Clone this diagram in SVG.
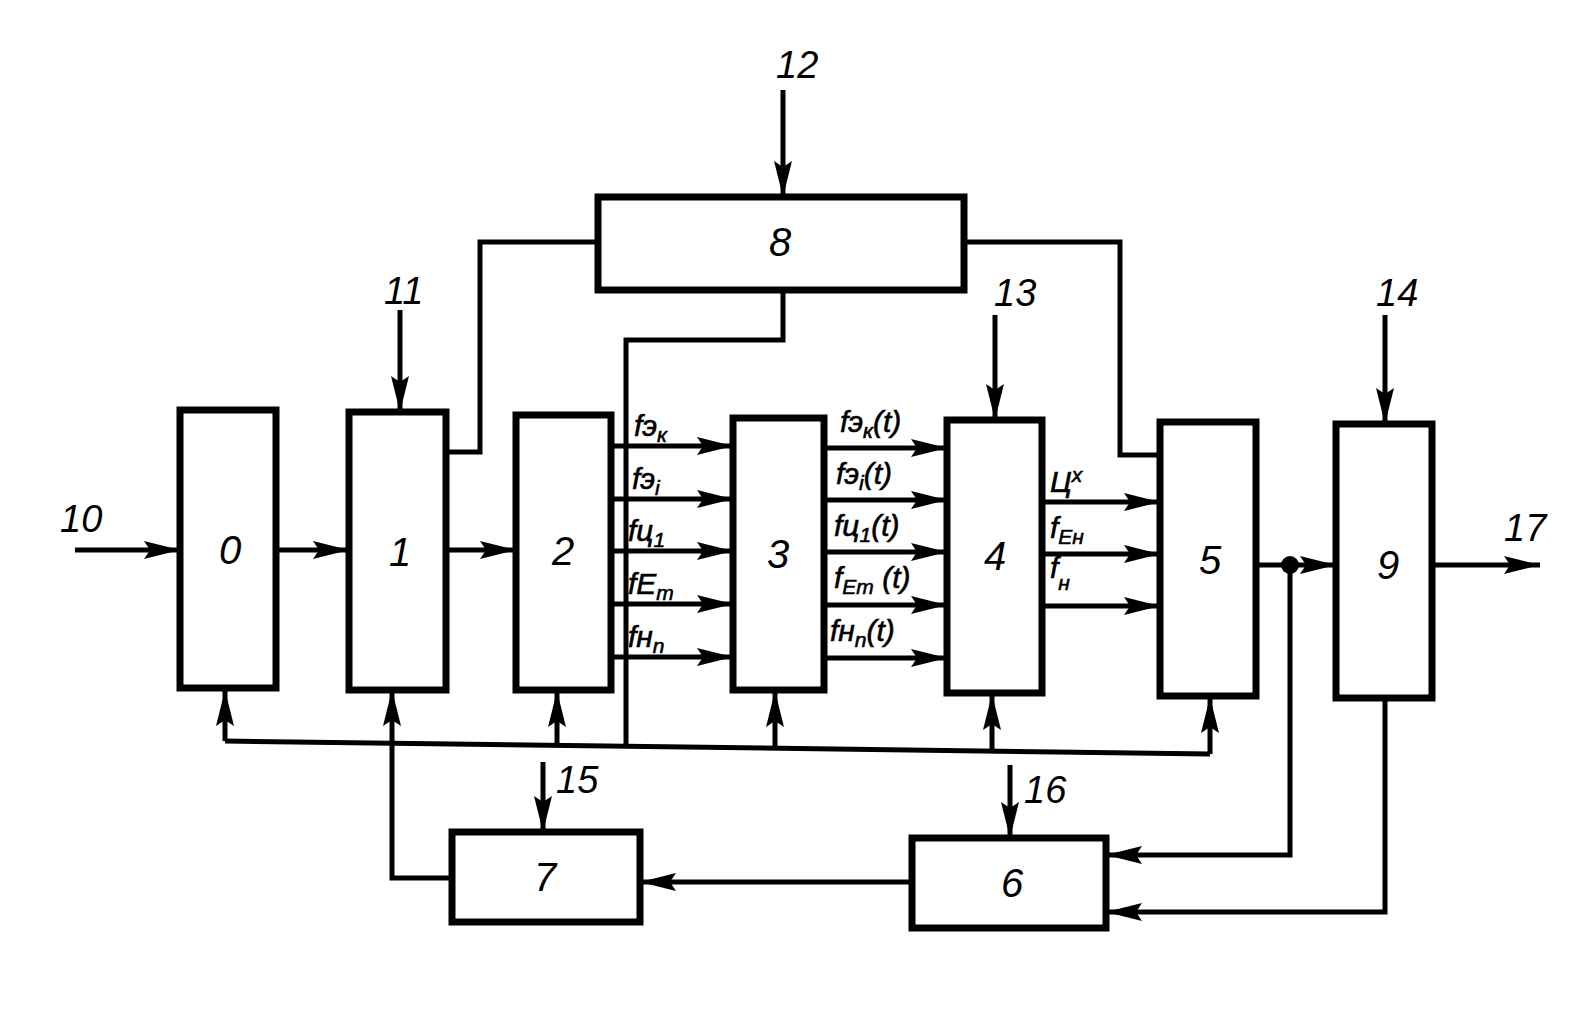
<svg xmlns="http://www.w3.org/2000/svg" width="1585" height="1016" viewBox="0 0 1585 1016">
<defs>
<marker id="ah" markerUnits="userSpaceOnUse" markerWidth="38" markerHeight="20" refX="36" refY="9" orient="auto">
<path d="M0,0 L36,9 L0,18 L6,9 Z" fill="#000"/>
</marker>
<style>
.box{fill:#fff;stroke:#000;stroke-width:7}
.ln{fill:none;stroke:#000;stroke-width:5}
.ar{fill:none;stroke:#000;stroke-width:5;marker-end:url(#ah)}
.num{font-family:"Liberation Sans",Arial,sans-serif;font-style:italic;font-size:40px;text-anchor:middle;fill:#000}
.lab{font-family:"Liberation Sans",Arial,sans-serif;font-style:italic;font-size:38px;fill:#000}
.sig{font-family:"Liberation Sans",Arial,sans-serif;font-style:italic;font-size:30px;fill:#000;stroke:#000;stroke-width:0.6}
.sub{font-size:21px}
</style>
</defs>
<rect width="1585" height="1016" fill="#fff"/>
<g id="connectors">
<path class="ar" d="M75,550 H180"/>
<path class="ar" d="M276,550 H349"/>
<path class="ar" d="M446,550 H516"/>
<path class="ar" d="M400,310 V412"/>
<path class="ln" d="M446,452 H480 V242 H598"/>
<path class="ar" d="M783,90 V197"/>
<path class="ln" d="M783,290 V340 H626 V746"/>
<path class="ln" d="M964,242 H1120 V455 H1160"/>
<path class="ar" d="M995,315 V420"/>
<path class="ar" d="M1385,315 V424"/>
<path class="ar" d="M611,446 H733"/>
<path class="ar" d="M611,499 H733"/>
<path class="ar" d="M611,551 H733"/>
<path class="ar" d="M611,604 H733"/>
<path class="ar" d="M611,657 H733"/>
<path class="ar" d="M824,448 H947"/>
<path class="ar" d="M824,500 H947"/>
<path class="ar" d="M824,552 H947"/>
<path class="ar" d="M824,605 H947"/>
<path class="ar" d="M824,658 H947"/>
<path class="ar" d="M1042,502 H1160"/>
<path class="ar" d="M1042,554 H1160"/>
<path class="ar" d="M1042,606 H1160"/>
<path class="ar" d="M1256,565 H1336"/>
<circle cx="1290" cy="565" r="9" fill="#000"/>
<path class="ar" d="M1290,565 V855 H1106"/>
<path class="ar" d="M1385,698 V912 H1106"/>
<path class="ar" d="M1432,565 H1540"/>
<path class="ar" d="M912,882 H640"/>
<path class="ar" d="M452,878 H392 V690"/>
<path class="ln" d="M225,741 L1210,754"/>
<path class="ar" d="M225,741 V690"/>
<path class="ar" d="M557,745 V691"/>
<path class="ar" d="M775,748 V691"/>
<path class="ar" d="M992,751 V694"/>
<path class="ar" d="M1210,754 V697"/>
<path class="ar" d="M543,762 V832"/>
<path class="ar" d="M1010,765 V838"/>
</g>
<g id="node0"><rect class="box" x="180" y="410" width="96" height="278"/><text class="num" x="230" y="564">0</text></g>
<g id="node1"><rect class="box" x="349" y="412" width="97" height="278"/><text class="num" x="400" y="566">1</text></g>
<g id="node2"><rect class="box" x="516" y="415" width="95" height="275"/><text class="num" x="563" y="565">2</text></g>
<g id="node3"><rect class="box" x="733" y="418" width="91" height="272"/><text class="num" x="778" y="568">3</text></g>
<g id="node4"><rect class="box" x="947" y="420" width="95" height="273"/><text class="num" x="995" y="570">4</text></g>
<g id="node5"><rect class="box" x="1160" y="422" width="96" height="274"/><text class="num" x="1210" y="574">5</text></g>
<g id="node9"><rect class="box" x="1336" y="424" width="96" height="274"/><text class="num" x="1388" y="579">9</text></g>
<g id="node8"><rect class="box" x="598" y="197" width="366" height="93"/><text class="num" x="780" y="256">8</text></g>
<g id="node7"><rect class="box" x="452" y="832" width="188" height="90"/><text class="num" x="545" y="891">7</text></g>
<g id="node6"><rect class="box" x="912" y="838" width="194" height="90"/><text class="num" x="1012" y="897">6</text></g>
<g id="labels">
<text class="lab" x="60" y="532">10</text>
<text class="lab" x="384" y="304">11</text>
<text class="lab" x="776" y="78">12</text>
<text class="lab" x="994" y="306">13</text>
<text class="lab" x="1376" y="306">14</text>
<text class="lab" x="556" y="793">15</text>
<text class="lab" x="1024" y="803">16</text>
<text class="lab" x="1504" y="541">17</text>
<text class="sig" x="634" y="436">fэ<tspan class="sub" dy="6">к</tspan></text>
<text class="sig" x="632" y="489">fэ<tspan class="sub" dy="6">i</tspan></text>
<text class="sig" x="628" y="541">fц<tspan class="sub" dy="6">1</tspan></text>
<text class="sig" x="628" y="594">fE<tspan class="sub" dy="6">m</tspan></text>
<text class="sig" x="628" y="647">fн<tspan class="sub" dy="6">n</tspan></text>
<text class="sig" x="840" y="432">fэ<tspan class="sub" dy="6">к</tspan><tspan dy="-6">(t)</tspan></text>
<text class="sig" x="836" y="484">fэ<tspan class="sub" dy="6">i</tspan><tspan dy="-6">(t)</tspan></text>
<text class="sig" x="834" y="536">fц<tspan class="sub" dy="6">1</tspan><tspan dy="-6">(t)</tspan></text>
<text class="sig" x="834" y="588">f<tspan class="sub" dy="6">Em</tspan><tspan dy="-6"> (t)</tspan></text>
<text class="sig" x="830" y="641">fн<tspan class="sub" dy="6">n</tspan><tspan dy="-6">(t)</tspan></text>
<text class="sig" x="1050" y="492">Ц<tspan class="sub" dy="-10">x</tspan></text>
<text class="sig" x="1050" y="538">f<tspan class="sub" dy="6">Eн</tspan></text>
<text class="sig" x="1050" y="578">f<tspan class="sub" dy="12">н</tspan></text>
</g>
</svg>
